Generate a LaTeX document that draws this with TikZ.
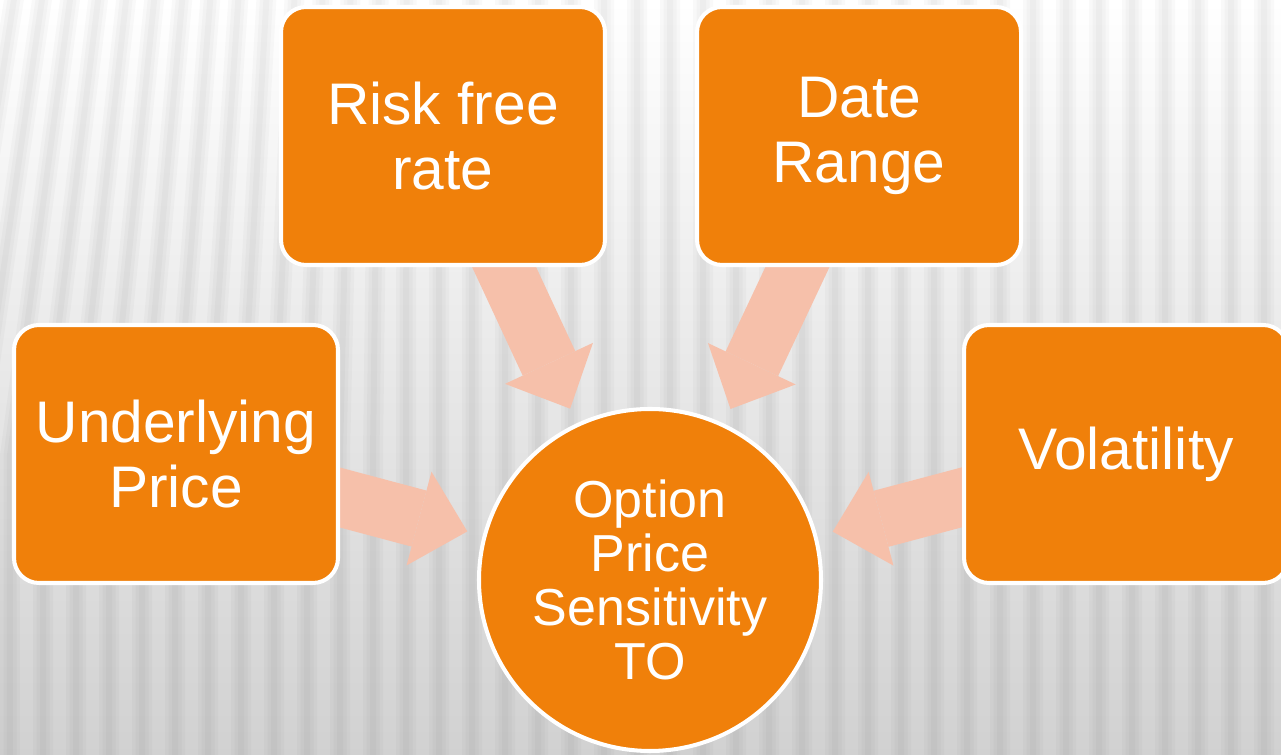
\documentclass[tikz,border=0pt]{standalone}
\usepackage{fontspec}
\setmainfont{Liberation Sans}
\usetikzlibrary{arrows.meta, positioning}
\definecolor{boxorange}{RGB}{240,128,10}
\definecolor{arrowpink}{RGB}{246,192,170}
\pgfdeclarelayer{bg}
\pgfdeclarelayer{arr}
\pgfsetlayers{bg,arr,main}

\begin{document}
\begin{tikzpicture}[box node/.style={rectangle, rounded corners=0.5cm, draw=white, line width=2.3pt, fill=boxorange, text=white, align=center, minimum width=6.48cm, minimum height=5.16cm, font=\fontsize{33.4}{37}\selectfont}, center node/.style={circle, draw=white, line width=2.3pt, fill=boxorange, text=white, align=center, minimum size=6.84cm, inner sep=0pt, font=\fontsize{29.6}{30.7}\selectfont}, block arrow/.style={arrowpink, draw, line width=1.16cm, shorten <=-0.4cm, shorten >=0.32cm, -{Triangle[length=1cm, width=1.94cm, line width=0pt]}}, stripe/.style={black, opacity=0.022}]

  \useasboundingbox (0,0) rectangle (25.62,15.1);
  \clip (0,0) rectangle (25.62,15.1);

  % striped backdrop, leaning a bit on the upper left
  \begin{pgfonlayer}{bg}
    \shade[top color=white, middle color=black!4, bottom color=black!18] (0,0) rectangle (25.62,15.1);
    \foreach \x in {-1.32,-0.66,...,25.8} {
      \pgfmathsetmacro{\lean}{max(0,8-\x)*0.15}
      \foreach \w/\o in {0.4/0, 0.26/0.07, 0.12/0.14}
        \fill[stripe] (\x+\o,0) -- (\x+\o,6) -- (\x+\o+\lean,15.1) -- (\x+\o+\w+\lean,15.1) -- (\x+\o+\w,6) -- (\x+\o+\w,0) -- cycle;
    }
  \end{pgfonlayer}

  \node[center node] (C) at (13.0,3.5) {Option\\Price\\Sensitivity\\TO};
  \node[box node] (U) at (3.52,6.02) {Underlying\\Price};
  \node[box node] (V) [right=12.44cm of U] {Volatility};
  \node[box node] (R) at (8.86,12.38) {Risk free\\rate};
  \node[box node] (D) [right=1.76cm of R] {Date\\Range};

  \begin{pgfonlayer}{arr}
    \path[block arrow]
      (U) edge (C)
      (R) edge (C)
      (D) edge (C)
      (V) edge (C);
  \end{pgfonlayer}
\end{tikzpicture}
\end{document}
